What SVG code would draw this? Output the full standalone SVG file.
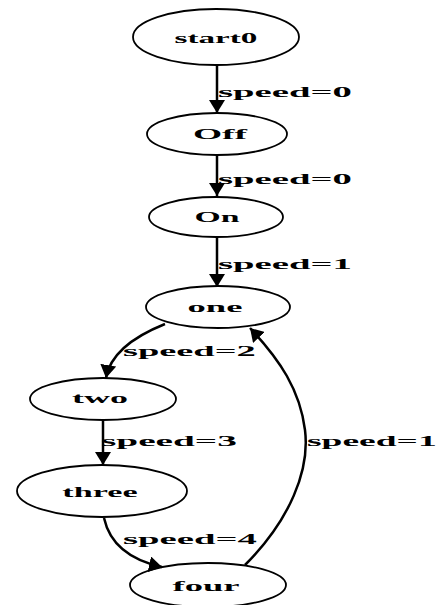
<svg xmlns="http://www.w3.org/2000/svg" width="444" height="605" viewBox="0 0 444 605">
<defs>
<style>
.node ellipse{fill:none;stroke:#000;stroke-width:1.8}
.node text{font-family:"Liberation Serif","Times New Roman",serif;font-size:15px;font-weight:bold;fill:#000;text-anchor:middle}
.edge path{fill:none;stroke:#000;stroke-width:2.5}
.lbl{font-family:"Liberation Serif","Times New Roman",serif;font-size:15px;font-weight:bold;fill:#000}
</style>
<marker id="ah" markerUnits="userSpaceOnUse" markerWidth="15" markerHeight="16" refX="13" refY="8" orient="auto">
<path d="M0,0 L13,8 L0,16 z" fill="#000"/>
</marker>
</defs>
<rect width="444" height="605" fill="#fff"/>
<g id="edges" class="edge">
<path d="M217,65 L217,113" marker-end="url(#ah)"/>
<path d="M217,155 L217,196" marker-end="url(#ah)"/>
<path d="M217,237 L217,287" marker-end="url(#ah)"/>
<path d="M165,324 C130,338 110,355 106,378" marker-end="url(#ah)"/>
<path d="M103,420 L103,465" marker-end="url(#ah)"/>
<path d="M104,518 C110,545 130,560 162,567" marker-end="url(#ah)"/>
<path d="M245,565 C290,520 310,470 305,430 C300,390 280,360 250,328" marker-end="url(#ah)"/>
<text class="lbl" transform="translate(218,97) scale(2.58,1)">speed=0</text>
<text class="lbl" transform="translate(218,184) scale(2.58,1)">speed=0</text>
<text class="lbl" transform="translate(218,269) scale(2.58,1)">speed=1</text>
<text class="lbl" transform="translate(123,356) scale(2.56,1)">speed=2</text>
<text class="lbl" transform="translate(101,446) scale(2.62,1)">speed=3</text>
<text class="lbl" transform="translate(307,446) scale(2.5,1)">speed=1</text>
<text class="lbl" transform="translate(123,544) scale(2.58,1)">speed=4</text>
</g>
<g id="start0" class="node"><ellipse cx="216" cy="37" rx="83" ry="28"/><text transform="translate(216,43) scale(2.21,1)">start0</text></g>
<g id="Off" class="node"><ellipse cx="217" cy="134" rx="70" ry="21"/><text transform="translate(220,139) scale(2.5,1)">Off</text></g>
<g id="On" class="node"><ellipse cx="216" cy="217" rx="67" ry="20"/><text transform="translate(217,222) scale(2.25,1)">On</text></g>
<g id="one" class="node"><ellipse cx="218" cy="307" rx="72" ry="21"/><text transform="translate(215,312) scale(2.44,1)">one</text></g>
<g id="two" class="node"><ellipse cx="103" cy="399" rx="73" ry="21"/><text transform="translate(100,403) scale(2.4,1)">two</text></g>
<g id="three" class="node"><ellipse cx="102" cy="491" rx="85" ry="26"/><text transform="translate(100,497) scale(2.28,1)">three</text></g>
<g id="four" class="node"><ellipse cx="208" cy="585" rx="78" ry="22"/><text transform="translate(206,591) scale(2.44,1)">four</text></g>
</svg>
